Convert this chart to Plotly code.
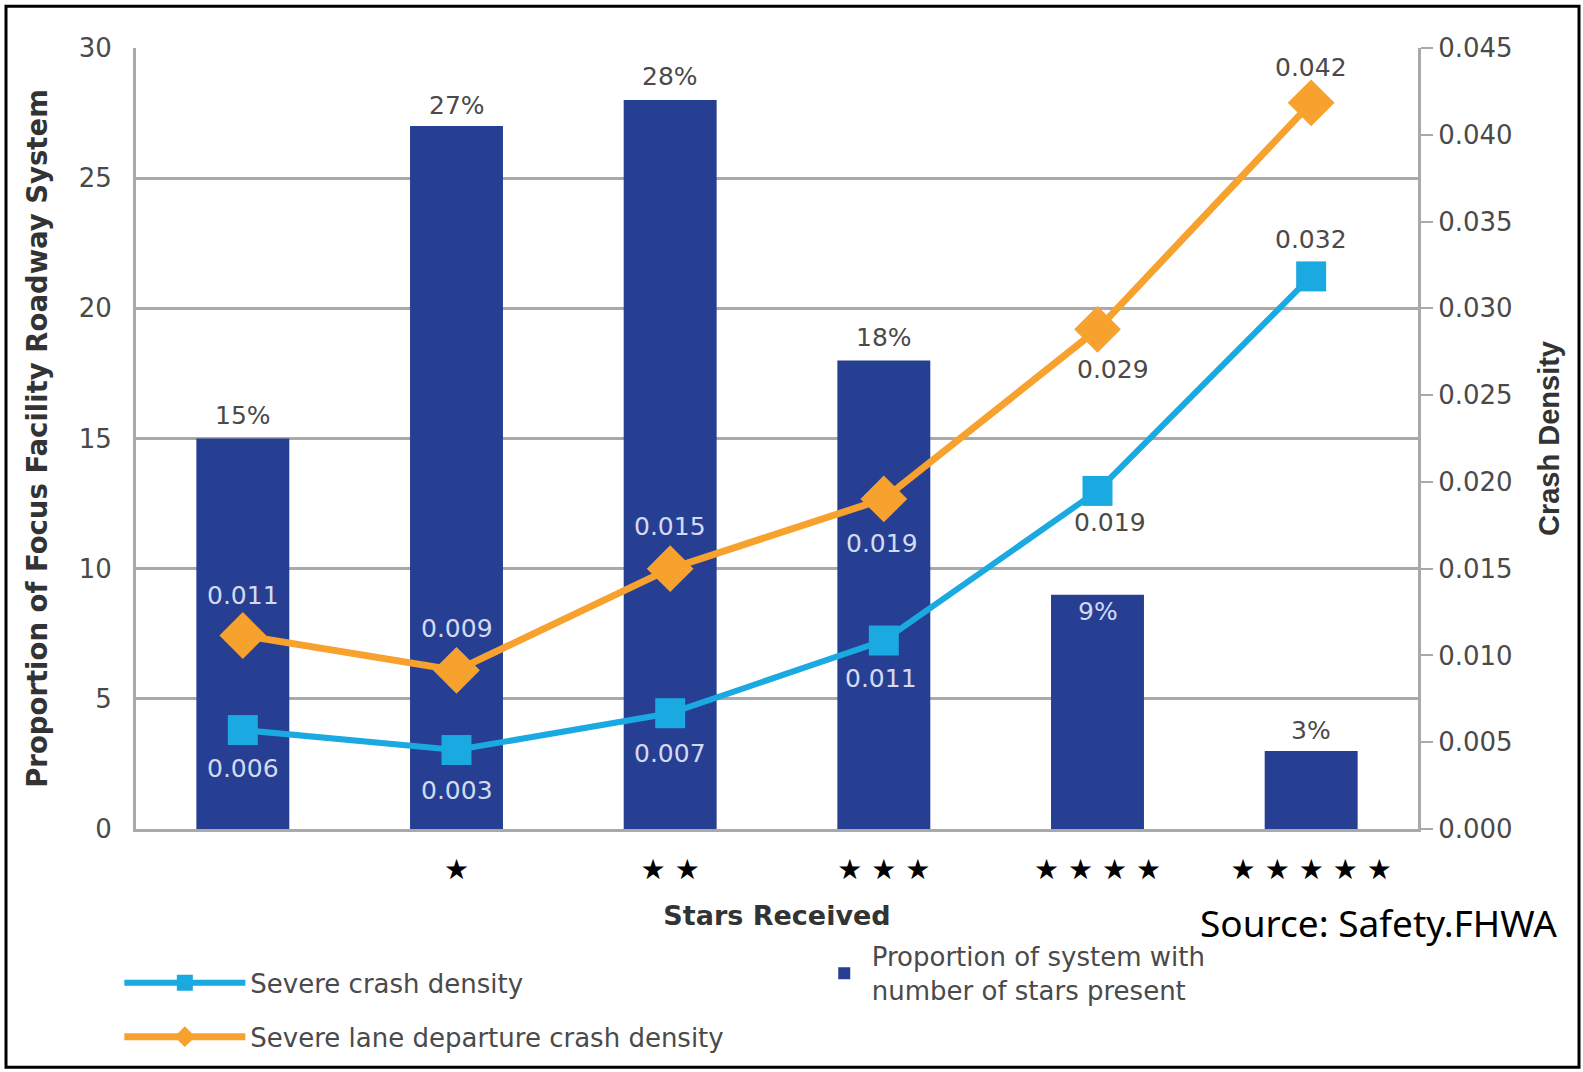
import plotly.graph_objects as go

# ---- data ----
star_labels = ["", "★", "★ ★", "★ ★ ★", "★ ★ ★ ★", "★ ★ ★ ★ ★"]
proportion = [15, 27, 28, 18, 9, 3]
proportion_text = ["15%", "27%", "28%", "18%", "9%", "3%"]
severe_density = [0.0057, 0.00455, 0.00667, 0.01086, 0.01948, 0.03184]
severe_text = ["0.006", "0.003", "0.007", "0.011", "0.019", "0.032"]
lane_density = [0.01115, 0.00914, 0.0150, 0.01902, 0.02879, 0.04184]
lane_text = ["0.011", "0.009", "0.015", "0.019", "0.029", "0.042"]

# ---- styles ----
NAVY = "#263f92"
CYAN = "#1ba9e1"
ORANGE = "#f7a12f"
GRID = "#a9a9a9"
DARK = "#4a4a4a"
LIGHT = "#d3daf2"
FONT = "DejaVu Sans"

x = list(range(len(star_labels)))

fig = go.Figure()
fig.add_trace(go.Bar(
    x=x, y=proportion, width=0.435, marker=dict(color=NAVY, line=dict(width=0)),
    name="Proportion of system with<br>number of stars present",
    legend="legend2", yaxis="y",
))
fig.add_trace(go.Scatter(
    x=x, y=severe_density, yaxis="y2", mode="lines+markers",
    line=dict(color=CYAN, width=6),
    marker=dict(symbol="square", size=30, color=CYAN),
    name="Severe crash density", legendgroup="a", legend="legend",
))
fig.add_trace(go.Scatter(
    x=x, y=lane_density, yaxis="y2", mode="lines+markers",
    line=dict(color=ORANGE, width=7),
    marker=dict(symbol="diamond", size=36, color=ORANGE),
    name="Severe lane departure crash density", legendgroup="b", legend="legend",
))

annotations = []
# bar labels: (yshift, inside?)
bar_place = [(23, False), (21, False), (24, False), (23, False), (-17, True), (20, False)]
for xi, v, t, (ys, inside) in zip(x, proportion, proportion_text, bar_place):
    annotations.append(dict(x=xi, y=v, xref="x", yref="y", text=t, showarrow=False,
                            yshift=ys, font=dict(size=25, color=LIGHT if inside else DARK, family=FONT)))
# line labels: (yshift, inside?, xshift)
blue_place = [(-38, True, 0), (-40, True, 0), (-40, True, 0), (-38, True, -3), (-32, False, 12), (37, False, 0)]
orange_place = [(40, True, 0), (42, True, 0), (42, True, 0), (-45, True, -2), (-40, False, 15), (35, False, 0)]
for vals, texts, places in ((severe_density, severe_text, blue_place), (lane_density, lane_text, orange_place)):
    for xi, v, t, (ys, inside, xs) in zip(x, vals, texts, places):
        annotations.append(dict(x=xi, y=v, xref="x", yref="y2", text=t, showarrow=False,
                                yshift=ys, xshift=xs,
                                font=dict(size=25, color=LIGHT if inside else DARK, family=FONT)))
# source note
annotations.append(dict(x=0.8284, y=-0.120, xref="paper", yref="paper", xanchor="left", yanchor="middle",
                        text="Source: Safety.FHWA", showarrow=False,
                        font=dict(size=37, color="#000000", family="Noto Sans")))

fig.update_layout(
    width=1583, height=1072,
    margin=dict(l=136, r=165, t=48, b=241),
    paper_bgcolor="white", plot_bgcolor="white",
    font=dict(family=FONT, color=DARK, size=25),
    xaxis=dict(
        range=[-0.5, 5.5], tickmode="array", tickvals=x, ticktext=star_labels,
        tickfont=dict(size=28, color="#000000", family="DejaVu Sans"), showgrid=False,
        showline=True, linecolor=GRID, linewidth=3, ticks="", ticklabelstandoff=13,
        title=dict(text="<b>Stars Received</b>", font=dict(size=27, color="#333333", family=FONT), standoff=22),
        zeroline=False, automargin=False,
    ),
    yaxis=dict(
        range=[0, 30], dtick=5, showgrid=True, gridcolor=GRID, gridwidth=3,
        showline=True, linecolor=GRID, linewidth=3, zeroline=False,
        tickfont=dict(size=26, color=DARK), ticks="", ticklabelstandoff=16,
        title=dict(text="<b>Proportion of Focus Facility Roadway System</b>",
                   font=dict(size=27.5, color="#333333", family=FONT), standoff=24),
        automargin=False,
    ),
    yaxis2=dict(
        range=[0, 0.045], dtick=0.005, tickformat=".3f", overlaying="y", side="right",
        showgrid=False, showline=True, linecolor=GRID, linewidth=3, zeroline=False,
        ticks="outside", ticklen=12, tickwidth=2, tickcolor=GRID,
        tickfont=dict(size=26, color=DARK),
        title=dict(text="<b>Crash Density</b>", font=dict(size=29, color="#333333", family="Liberation Sans"),
                   standoff=28),
        automargin=False,
    ),
    legend=dict(x=-0.013, y=-0.167, xanchor="left", yanchor="top", orientation="v",
                font=dict(size=26, color=DARK), itemwidth=121, tracegroupgap=17,
                traceorder="grouped", bgcolor="rgba(0,0,0,0)"),
    legend2=dict(x=0.531, y=-0.133, xanchor="left", yanchor="top", itemwidth=45,
                 font=dict(size=26, color=DARK), bgcolor="rgba(0,0,0,0)"),
    showlegend=True,
    annotations=annotations,
    shapes=[dict(type="rect", xref="paper", yref="paper", x0=-0.1014, x1=1.1256, y0=-0.3052, y1=1.0536,
                 line=dict(color="#000000", width=3), fillcolor="rgba(0,0,0,0)")],
)

fig.write_html(
    "out.html",
    config={"displayModeBar": False},
    post_script=(
        "document.body.style.margin='0';"
        "document.body.style.overflow='hidden';"
        "document.documentElement.style.overflow='hidden';"
    ),
)
